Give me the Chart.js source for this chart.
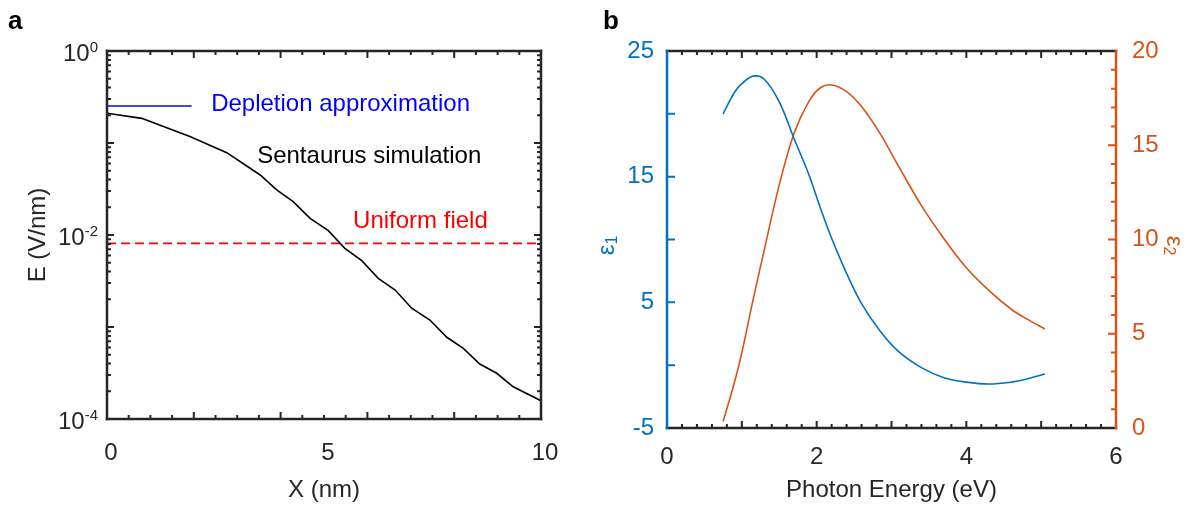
<!DOCTYPE html>
<html><head><meta charset="utf-8">
<script src="https://cdn.jsdelivr.net/npm/chart.js@4.4.0/dist/chart.umd.min.js"></script>
<style>
html,body{margin:0;padding:0;background:#fff;}
#wrap{position:relative;width:1199px;height:506px;overflow:hidden;background:#fff;}
.pane{position:absolute;top:0;}
</style></head><body>
<div id="wrap">
<div class="pane" style="left:0;width:580px;height:506px"><canvas id="ca" width="580" height="506"></canvas></div>
<div class="pane" style="left:580px;width:619px;height:506px"><canvas id="cb" width="619" height="506"></canvas></div>
</div>
<script>
// ---------- Panel a data ----------
const positionNm = [0, 0.8, 1.91, 2.76, 3.53, 3.91, 4.29, 4.68, 5.10, 5.48, 5.87, 6.25, 6.64, 7.02, 7.44, 7.83, 8.21, 8.59, 8.98, 9.36, 10.0];
const sentaurusField = [0.2104, 0.1854, 0.1175, 0.0785, 0.0449, 0.0309, 0.0230, 0.01514, 0.01114, 0.00716, 0.00526, 0.00338, 0.00252, 0.00160, 0.00119, 0.000773, 0.000586, 0.000396, 0.000314, 0.000224, 0.000158];
const depletionX = [0, 1.95];
const depletionField = [0.252, 0.252];
const uniformX = [0, 10];
const uniformField = [0.0081, 0.0081];
const xTickLabelsA = [0, 5, 10];
const yTickExponentsA = [0, -2, -4];

// ---------- Panel b data ----------
const photonEnergy = [0.75, 0.9, 1.0, 1.15, 1.3, 1.5, 1.7, 1.9, 2.05, 2.2, 2.4, 2.6, 2.85, 3.1, 3.4, 3.7, 4.0, 4.3, 4.6, 4.8, 5.05];
const eps1 = [20.0, 21.7, 22.4, 23.0, 22.75, 20.95, 18.0, 15.1, 12.5, 10.1, 7.3, 4.9, 2.7, 1.05, -0.2, -1.0, -1.35, -1.5, -1.35, -1.12, -0.7];
const eps2 = [0.35, 2.4, 4.0, 6.8, 9.45, 12.9, 15.65, 17.35, 18.05, 18.2, 17.85, 17.05, 15.6, 13.85, 11.8, 10.05, 8.5, 7.3, 6.3, 5.8, 5.25];
const xTickLabelsB = [0, 2, 4, 6];
const eps1TickLabels = [-5, 5, 15, 25];
const eps2TickLabels = [0, 5, 10, 15, 20];

const FONT = '"Liberation Sans", Arial, Helvetica, sans-serif';
Chart.defaults.font.family = FONT;
const AX = '#262626';
const BLUE = '#0072BD';
const ORANGE = '#D95319';

function range(a, b, step) { const r = []; for (let i = 0; a + i * step <= b + 1e-9; i++) r.push(+(a + i * step).toFixed(6)); return r; }

// frame + inward ticks + extra texts
const framePlugin = {
  id: 'frame',
  afterDatasetsDraw(chart, args, opts) {
    const { ctx, chartArea: a } = chart;
    ctx.save();
    for (const t of (opts.ticks || [])) {
      const scale = chart.scales[t.scale];
      ctx.strokeStyle = t.color; ctx.lineWidth = t.width || 2; ctx.lineCap = 'butt';
      ctx.beginPath();
      for (const v of t.values) {
        const p = scale.getPixelForValue(v);
        for (const side of t.sides) {
          if (side === 'bottom') { ctx.moveTo(p, a.bottom); ctx.lineTo(p, a.bottom - t.len); }
          if (side === 'top') { ctx.moveTo(p, a.top); ctx.lineTo(p, a.top + t.len); }
          if (side === 'left') { ctx.moveTo(a.left, p); ctx.lineTo(a.left + t.len, p); }
          if (side === 'right') { ctx.moveTo(a.right, p); ctx.lineTo(a.right - t.len, p); }
        }
      }
      ctx.stroke();
    }
    for (const s of (opts.spines || [])) {
      ctx.strokeStyle = s.color; ctx.lineWidth = s.width; ctx.lineCap = 'square';
      ctx.beginPath();
      if (s.side === 'bottom') { ctx.moveTo(a.left, a.bottom); ctx.lineTo(a.right, a.bottom); }
      if (s.side === 'top') { ctx.moveTo(a.left, a.top); ctx.lineTo(a.right, a.top); }
      if (s.side === 'left') { ctx.moveTo(a.left, a.top); ctx.lineTo(a.left, a.bottom); }
      if (s.side === 'right') { ctx.moveTo(a.right, a.top); ctx.lineTo(a.right, a.bottom); }
      ctx.stroke();
    }
    for (const tx of (opts.texts || [])) {
      ctx.font = tx.font; ctx.fillStyle = tx.color; ctx.textAlign = 'left'; ctx.textBaseline = 'alphabetic';
      let x = tx.px, y = tx.py;
      if (tx.xv !== undefined) x = chart.scales.x.getPixelForValue(tx.xv);
      if (tx.yv !== undefined) y = chart.scales[tx.yScale || 'y'].getPixelForValue(tx.yv);
      ctx.fillText(tx.text, x, y);
    }
    ctx.restore();
  }
};

// log axis labels 10^n
const powLabelPlugin = {
  id: 'powLabels',
  afterDraw(chart, args, opts) {
    if (!opts.exps) return;
    const { ctx } = chart; const s = chart.scales.y;
    ctx.save(); ctx.fillStyle = AX; ctx.textBaseline = 'alphabetic'; ctx.textAlign = 'left';
    for (const e of opts.exps) {
      const py = s.getPixelForValue(Math.pow(10, e));
      ctx.font = '24px ' + FONT; const w1 = ctx.measureText('10').width;
      ctx.font = '15px ' + FONT; const sup = String(e); const w2 = ctx.measureText(sup).width;
      const x0 = opts.right - w1 - w2;
      ctx.font = '24px ' + FONT; ctx.fillText('10', x0, py + opts.dy);
      ctx.font = '15px ' + FONT; ctx.fillText(sup, x0 + w1, py + opts.dy - 9);
    }
    ctx.restore();
  }
};

// subscript axis titles
const subTitlePlugin = {
  id: 'subTitles',
  afterDraw(chart, args, opts) {
    const { ctx, chartArea: a } = chart;
    for (const t of (opts.items || [])) {
      ctx.save();
      ctx.fillStyle = t.color; ctx.textBaseline = 'middle'; ctx.textAlign = 'left';
      ctx.font = '24px ' + FONT; const w1 = ctx.measureText(t.main).width;
      ctx.font = '16px ' + FONT; const w2 = ctx.measureText(t.sub).width;
      ctx.translate(t.x, (a.top + a.bottom) / 2 + (t.dy || 0));
      ctx.rotate(t.rot);
      const x0 = -(w1 + w2) / 2;
      ctx.font = '24px ' + FONT; ctx.fillText(t.main, x0, 0);
      ctx.font = '16px ' + FONT; ctx.fillText(t.sub, x0 + w1, 6);
      ctx.restore();
    }
  }
};

const common = { responsive: false, animation: false, events: [] };

// ---------- Panel a ----------
new Chart(document.getElementById('ca'), {
  type: 'line',
  data: { datasets: [
    { label: 'Sentaurus simulation', data: positionNm.map((x, i) => ({ x, y: sentaurusField[i] })), borderColor: '#000', borderWidth: 1.6, pointRadius: 0, tension: 0 },
    { label: 'Depletion approximation', data: depletionX.map((x, i) => ({ x, y: depletionField[i] })), borderColor: '#0000FF', borderWidth: 1.6, pointRadius: 0 },
    { label: 'Uniform field', data: uniformX.map((x, i) => ({ x, y: uniformField[i] })), borderColor: '#FF0000', borderWidth: 1.6, borderDash: [9, 5], pointRadius: 0 }
  ]},
  options: Object.assign({}, common, {
    layout: { padding: { left: 0, right: 39, top: 51, bottom: 0 } },
    scales: {
      x: { type: 'linear', min: 0, max: 10,
        afterFit(s) { s.height = 87; },
        afterBuildTicks(s) { s.ticks = xTickLabelsA.map(v => ({ value: v })); },
        grid: { display: false, drawTicks: false }, border: { display: false },
        ticks: { font: { size: 24 }, color: AX, padding: 20, labelOffset: 4, maxRotation: 0, autoSkip: false },
        title: { display: true, text: 'X (nm)', font: { size: 24 }, color: AX, padding: { top: 0, bottom: 1 } } },
      y: { type: 'logarithmic', min: 1e-4, max: 1,
        afterFit(s) { s.width = 107; },
        grid: { display: false, drawTicks: false }, border: { display: false },
        ticks: { display: false },
        title: { display: true, text: 'E (V/nm)', font: { size: 24 }, color: AX, padding: { top: 24, bottom: 0 } } }
    },
    plugins: {
      legend: { display: false }, tooltip: { enabled: false },
      frame: {
        ticks: [
          { scale: 'x', values: range(0, 10, 2), len: 7, color: AX, sides: ['bottom', 'top'] },
          { scale: 'x', values: range(0, 10, 0.5).filter(v => Math.abs(v / 2 - Math.round(v / 2)) > 1e-6), len: 4, color: AX, sides: ['bottom', 'top'] },
          { scale: 'y', values: [1e-4, 1e-3, 1e-2, 1e-1, 1], len: 7, color: AX, sides: ['left', 'right'] },
          { scale: 'y', values: [-4, -3, -2, -1].flatMap(e => [2,3,4,5,6,7,8,9].map(m => m * Math.pow(10, e))), len: 4, color: AX, sides: ['left', 'right'] }
        ],
        spines: [
          { side: 'bottom', color: AX, width: 2.5 }, { side: 'top', color: AX, width: 2.5 },
          { side: 'left', color: AX, width: 2.5 }, { side: 'right', color: AX, width: 2.5 }
        ],
        texts: [
          { text: 'Depletion approximation', xv: 2.4, yv: 0.223, font: '24px ' + FONT, color: '#0000FF' },
          { text: 'Sentaurus simulation', xv: 3.46, yv: 0.0607, font: '24px ' + FONT, color: '#000' },
          { text: 'Uniform field', xv: 5.67, yv: 0.0119, font: '24px ' + FONT, color: '#FF0000' },
          { text: 'a', px: 8, py: 29, font: 'bold 26px ' + FONT, color: '#000' }
        ]
      },
      powLabels: { exps: yTickExponentsA, right: 98, dy: 10 }
    }
  }),
  plugins: [framePlugin, powLabelPlugin]
});

// ---------- Panel b ----------
new Chart(document.getElementById('cb'), {
  type: 'line',
  data: { datasets: [
    { label: 'ε1', data: photonEnergy.map((x, i) => ({ x, y: eps1[i] })), yAxisID: 'y', borderColor: BLUE, borderWidth: 1.6, pointRadius: 0, tension: 0.35 },
    { label: 'ε2', data: photonEnergy.map((x, i) => ({ x, y: eps2[i] })), yAxisID: 'y2', borderColor: ORANGE, borderWidth: 1.6, pointRadius: 0, tension: 0.35 }
  ]},
  options: Object.assign({}, common, {
    layout: { padding: { left: 0, right: 0, top: 51, bottom: 0 } },
    scales: {
      x: { type: 'linear', min: 0, max: 6,
        afterFit(s) { s.height = 78; },
        afterBuildTicks(s) { s.ticks = xTickLabelsB.map(v => ({ value: v })); },
        grid: { display: false, drawTicks: false }, border: { display: false },
        ticks: { font: { size: 24 }, color: AX, padding: 15, maxRotation: 0, autoSkip: false },
        title: { display: true, text: 'Photon Energy (eV)', font: { size: 24 }, color: AX, padding: { top: 0, bottom: 1 } } },
      y: { type: 'linear', position: 'left', min: -5, max: 25,
        afterFit(s) { s.width = 87; },
        afterBuildTicks(s) { s.ticks = eps1TickLabels.map(v => ({ value: v })); },
        grid: { display: false, drawTicks: false }, border: { display: false },
        ticks: { font: { size: 24 }, color: BLUE, padding: 13, autoSkip: false } },
      y2: { type: 'linear', position: 'right', min: 0, max: 20,
        afterFit(s) { s.width = 83; },
        afterBuildTicks(s) { s.ticks = eps2TickLabels.map(v => ({ value: v })); },
        grid: { display: false, drawTicks: false }, border: { display: false },
        ticks: { font: { size: 24 }, color: ORANGE, padding: 16, autoSkip: false } }
    },
    plugins: {
      legend: { display: false }, tooltip: { enabled: false },
      frame: {
        ticks: [
          { scale: 'x', values: range(0, 6, 1), len: 7, color: AX, sides: ['bottom', 'top'] },
          { scale: 'x', values: range(0, 6, 0.2).filter(v => Math.abs(v - Math.round(v)) > 1e-6), len: 4, color: AX, sides: ['bottom', 'top'] },
          { scale: 'y', values: range(-5, 25, 5), len: 8, color: BLUE, sides: ['left'] },
          { scale: 'y2', values: range(0, 20, 5), len: 8, color: ORANGE, sides: ['right'] },
          { scale: 'y2', values: range(0, 20, 1).filter(v => v % 5 !== 0), len: 5, color: ORANGE, sides: ['right'] }
        ],
        spines: [
          { side: 'bottom', color: AX, width: 2.5 }, { side: 'top', color: AX, width: 2.5 },
          { side: 'left', color: BLUE, width: 2.5 }, { side: 'right', color: ORANGE, width: 2.5 }
        ],
        texts: [
          { text: 'b', px: 23, py: 29, font: 'bold 26px ' + FONT, color: '#000' }
        ]
      },
      subTitles: { items: [
        { main: 'ε', sub: '1', x: 27, rot: -Math.PI / 2, color: BLUE, dy: 6 },
        { main: 'ε', sub: '2', x: 594, rot: Math.PI / 2, color: ORANGE, dy: 6 }
      ]}
    }
  }),
  plugins: [framePlugin, subTitlePlugin]
});
</script>
</body></html>
